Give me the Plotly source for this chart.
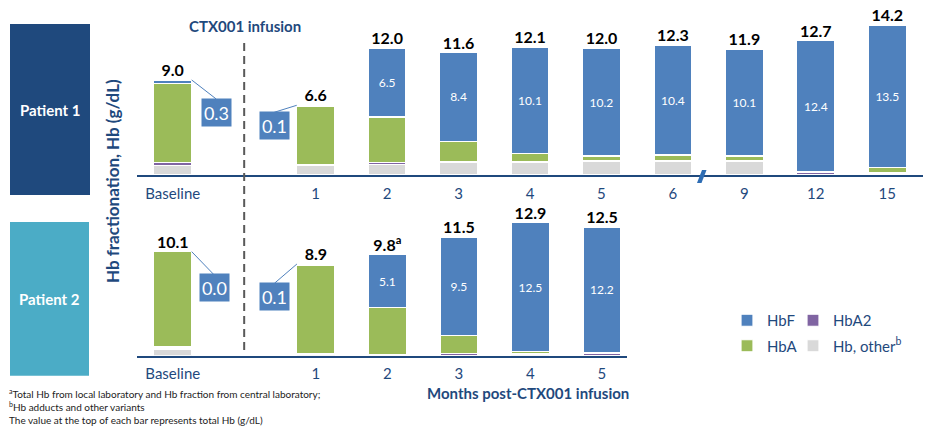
import plotly.graph_objects as go

W, H = 934, 433


def px(x):
    return x / W


def py(y):
    return 1 - y / H


FONT = "Lato"
NAVY = "#1F497D"
C_HBF = "#4F81BD"
C_HBA = "#9BBB59"
C_A2 = "#8064A2"
C_OTH = "#D9D9D9"

# ---------------- Data ----------------
# Patient 1
p1_cats = ["Baseline", " ", "1", "2", "3", "4", "5", "6", "9", "12", "15"]
p1_x = ["Baseline", "1", "2", "3", "4", "5", "6", "9", "12", "15"]
p1_total = [9.0, 6.6, 12.0, 11.6, 12.1, 12.0, 12.3, 11.9, 12.7, 14.2]
p1_hbf = [0.3, 0.1, 6.5, 8.4, 10.1, 10.2, 10.4, 10.1, 12.4, 13.5]
p1_hba = [7.55, 5.5, 4.35, 1.9, 0.7, 0.45, 0.55, 0.45, 0.05, 0.45]
p1_hba2 = [0.25, 0.1, 0.15, 0.1, 0.1, 0.1, 0.1, 0.1, 0.2, 0.1]
p1_other = [0.9, 0.9, 1.0, 1.2, 1.2, 1.25, 1.25, 1.25, 0.05, 0.15]
p1_note = ["", "", "", "", "", "", "", "", "", ""]

# Patient 2
p2_cats = ["Baseline", " ", "1", "2", "3", "4", "5"]
p2_x = ["Baseline", "1", "2", "3", "4", "5"]
p2_total = [10.1, 8.9, 9.8, 11.5, 12.9, 12.5]
p2_hbf = [0.0, 0.1, 5.1, 9.5, 12.5, 12.2]
p2_hba = [9.25, 8.6, 4.55, 1.8, 0.15, 0.1]
p2_hba2 = [0.2, 0.1, 0.1, 0.15, 0.15, 0.15]
p2_other = [0.65, 0.1, 0.05, 0.05, 0.1, 0.05]
p2_note = ["", "", "a", "", "", ""]

series_names = ["Hb, other<sup>b</sup>", "HbA2", "HbA", "HbF"]
series_colors = [C_OTH, C_A2, C_HBA, C_HBF]
series_legend = ["legend2", "legend2", "legend", "legend"]
series_rank = [2, 1, 2, 1]

BARGAP = 0.47
SLOT_PX = (923 - 137) / 11
HW = SLOT_PX * (1 - BARGAP) / 2

fig = go.Figure()

patients = [
    (p1_x, [p1_other, p1_hba2, p1_hba, p1_hbf], p1_total, p1_note, "x", "y", True),
    (p2_x, [p2_other, p2_hba2, p2_hba, p2_hbf], p2_total, p2_note, "x2", "y2", False),
]

for xs, segs, totals, notes, xa, ya, show in patients:
    for i, vals in enumerate(segs):
        is_hbf = i == 3
        kw = {}
        if is_hbf:
            kw = dict(
                text=[f"{v:.1f}" for v in vals],
                textposition=["inside" if v >= 1 else "none" for v in vals],
                insidetextanchor="middle",
                textfont=dict(family=FONT, size=12, color="white"),
            )
        fig.add_trace(go.Bar(
            x=xs, y=vals, name=series_names[i],
            marker=dict(color=series_colors[i], line=dict(color="white", width=1.2)),
            xaxis=xa, yaxis=ya, showlegend=show,
            legend=series_legend[i], legendgroup=series_names[i], legendrank=series_rank[i],
            hoverinfo="skip", **kw,
        ))
    fig.add_trace(go.Scatter(
        x=xs, y=totals, mode="text",
        text=[f"<b>{t:.1f}{'<sup>' + n + '</sup>' if n else ''}</b>" for t, n in zip(totals, notes)],
        textposition="top center",
        textfont=dict(family=FONT, size=16, color="black"),
        xaxis=xa, yaxis=ya, showlegend=False, hoverinfo="skip", cliponaxis=False,
    ))

axis_common = dict(
    type="category", showline=True, linecolor=NAVY, linewidth=1.5,
    showgrid=False, zeroline=False, ticks="outside", ticklen=4, tickcolor="rgba(0,0,0,0)",
    tickfont=dict(family=FONT, size=15, color=NAVY), fixedrange=True,
    categoryorder="array", tickmode="array",
)

legend_common = dict(
    xanchor="left", yanchor="top", traceorder="grouped", tracegroupgap=3,
    font=dict(family=FONT, size=15, color=NAVY), bgcolor="rgba(0,0,0,0)",
    itemwidth=30, itemclick=False, itemdoubleclick=False,
)

fig.update_layout(
    width=W, height=H, autosize=False,
    margin=dict(l=0, r=0, t=0, b=0),
    paper_bgcolor="white", plot_bgcolor="white",
    barmode="stack", bargap=BARGAP,
    font=dict(family=FONT, color=NAVY),
    xaxis=dict(axis_common, domain=[px(137), px(923)], categoryarray=p1_cats,
               tickvals=p1_x, ticktext=p1_x, range=[-0.5, 10.5], anchor="y"),
    yaxis=dict(domain=[py(175), py(20)], range=[0, 155 / 10.56], visible=False,
               fixedrange=True, anchor="x"),
    xaxis2=dict(axis_common, domain=[px(137), px(627)], categoryarray=p2_cats,
                tickvals=p2_x, ticktext=p2_x, range=[-0.5, 6.35], anchor="y2"),
    yaxis2=dict(domain=[py(355.7), py(200)], range=[0, 155.7 / 10.3], visible=False,
                fixedrange=True, anchor="x2"),
    legend=dict(legend_common, x=px(727), y=py(304)),
    legend2=dict(legend_common, x=px(793), y=py(304)),
    showlegend=True,
    hovermode=False,
)

shapes = [
    # Patient boxes
    dict(type="rect", xref="paper", yref="paper", x0=px(10), x1=px(90), y0=py(195), y1=py(24),
         fillcolor="#1F497D", line=dict(width=0), layer="below"),
    dict(type="rect", xref="paper", yref="paper", x0=px(10), x1=px(89), y0=py(375.7), y1=py(222),
         fillcolor="#4BACC6", line=dict(width=0), layer="below"),
    # CTX001 infusion dashed line (in the empty category slot)
    dict(type="line", xref="x", yref="paper", x0=p1_cats.index(" "), x1=p1_cats.index(" "),
         y0=py(350), y1=py(41), line=dict(color="#595959", width=2, dash="8px,5px")),
    # axis break mark
    dict(type="path", xref="paper", yref="paper",
         path=f"M {px(697)} {py(183)} L {px(701.5)} {py(183)} L {px(706.5)} {py(170)} L {px(702)} {py(170)} Z",
         fillcolor="#2E6DB4", line=dict(width=0)),
]


def label(text, x, y, size, color=NAVY, angle=0, xanchor="center"):
    return dict(text=text, x=px(x), y=py(y), xref="paper", yref="paper", xanchor=xanchor,
                yanchor="middle", showarrow=False, textangle=angle,
                font=dict(family=FONT, size=size, color=color))


ann = [
    label("<b>Patient 1</b>", 50, 110, 15, "white"),
    label("<b>Patient 2</b>", 49.5, 299, 15, "white"),
    label("<b>Hb fractionation, Hb (g/dL)</b>", 112, 181, 17, angle=-90),
    label("<b>CTX001 infusion</b>", 245, 26, 15),
    label("<b>Months post-CTX001 infusion</b>", 528, 393, 15),
]

foot = [
    ("<sup>a</sup>Total Hb from local laboratory and Hb fraction from central laboratory;", 393),
    ("<sup>b</sup>Hb adducts and other variants", 406.5),
    ("The value at the top of each bar represents total Hb (g/dL)", 420),
]
for t, yy in foot:
    ann.append(label(t, 7, yy, 10, "#222222", xanchor="left"))

# Callouts for small HbF values: (xaxis, yaxis, cats, category, total, hbf, side, ax, ay, box_dy)
callouts = [
    ("x", "y", p1_cats, p1_x[0], p1_total[0], p1_hbf[0], 1, 24.5, 19, 13.5),
    ("x", "y", p1_cats, p1_x[1], p1_total[1], p1_hbf[1], -1, -22.5, 7, 13.5),
    ("x2", "y2", p2_cats, p2_x[0], p2_total[0], p2_hbf[0], 1, 22.5, 23.3, 13),
    ("x2", "y2", p2_cats, p2_x[1], p2_total[1], p2_hbf[1], -1, -22.5, 19.3, 13),
]
for xa, ya, cats, cat, tot, val, side, ax, ay, bdy in callouts:
    ci = cats.index(cat)
    shapes.append(dict(type="line", xref=xa, yref=ya, xsizemode="pixel", ysizemode="pixel",
                       xanchor=ci, yanchor=tot, x0=side * HW, x1=side * HW + ax, y0=0, y1=-ay,
                       line=dict(color=C_HBF, width=1)))
    ann.append(dict(text=f"{val:.1f}", x=ci, y=tot, xref=xa, yref=ya,
                    xshift=side * HW + ax, yshift=-(ay + bdy), showarrow=False,
                    xanchor="center", yanchor="middle",
                    width=29, height=27, bgcolor=C_HBF, borderpad=0,
                    font=dict(family=FONT, size=18, color="white")))

fig.update_layout(shapes=shapes, annotations=ann)

fig.write_html("out.html", config={"displayModeBar": False},
               post_script="document.body.style.margin='0';")
